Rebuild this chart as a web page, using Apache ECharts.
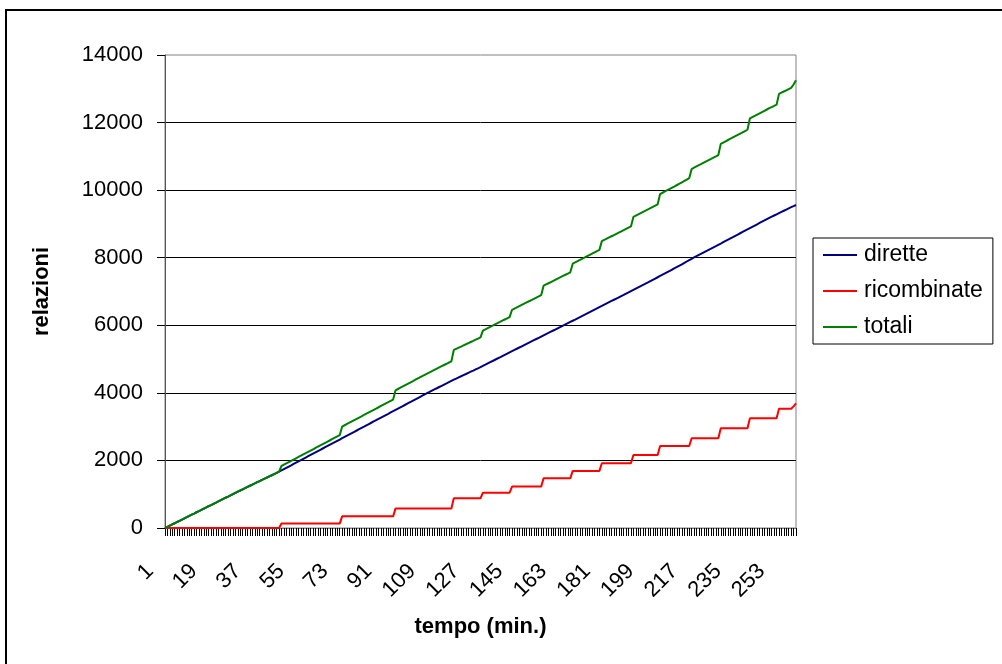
<!DOCTYPE html>
<html>
<head>
<meta charset="utf-8">
<title>relazioni nel tempo</title>
<script src="https://cdn.jsdelivr.net/npm/echarts@6/dist/echarts.min.js"></script>
<style>
  html, body { margin: 0; padding: 0; background: #fff; }
  #chart { width: 1002px; height: 664px; }
</style>
</head>
<body>
<div id="chart"></div>
<script>
// minutes 1..261
const minutes = [];
for (let m = 1; m <= 261; m++) minutes.push(String(m));

const seriesNames = ['dirette', 'ricombinate', 'totali'];

const dirette = [
  0, 30, 68, 105, 140, 178, 212, 250, 285, 320,
  356, 393, 428, 466, 501, 537, 574, 608, 645, 680,
  716, 752, 789, 823, 860, 896, 931, 968, 1003, 1040,
  1075, 1110, 1146, 1181, 1215, 1251, 1286, 1320, 1356, 1390,
  1425, 1459, 1494, 1528, 1562, 1597, 1632, 1667, 1705, 1743,
  1781, 1819, 1857, 1896, 1934, 1972, 2010, 2048, 2086, 2124,
  2162, 2200, 2238, 2277, 2315, 2353, 2391, 2429, 2467, 2505,
  2543, 2581, 2619, 2658, 2696, 2734, 2772, 2810, 2848, 2886,
  2924, 2962, 3000, 3039, 3077, 3115, 3153, 3191, 3229, 3267,
  3305, 3343, 3381, 3420, 3458, 3496, 3534, 3572, 3610, 3648,
  3686, 3724, 3762, 3801, 3839, 3877, 3915, 3953, 3990, 4026,
  4063, 4100, 4136, 4173, 4209, 4245, 4281, 4318, 4354, 4390,
  4424, 4458, 4491, 4525, 4558, 4592, 4626, 4659, 4693, 4727,
  4760, 4797, 4833, 4870, 4907, 4943, 4980, 5017, 5053, 5090,
  5126, 5162, 5198, 5234, 5270, 5306, 5342, 5378, 5414, 5450,
  5486, 5522, 5558, 5594, 5630, 5666, 5702, 5738, 5774, 5810,
  5846, 5882, 5918, 5954, 5990, 6026, 6062, 6098, 6134, 6170,
  6207, 6244, 6281, 6318, 6355, 6392, 6429, 6466, 6503, 6540,
  6576, 6612, 6648, 6684, 6720, 6756, 6792, 6828, 6864, 6900,
  6937, 6974, 7011, 7048, 7085, 7122, 7159, 7196, 7233, 7270,
  7308, 7346, 7384, 7422, 7460, 7498, 7536, 7574, 7612, 7651,
  7689, 7727, 7765, 7806, 7847, 7888, 7929, 7969, 8010, 8047,
  8084, 8121, 8159, 8196, 8233, 8270, 8308, 8345, 8383, 8420,
  8458, 8496, 8534, 8572, 8610, 8648, 8686, 8724, 8762, 8800,
  8838, 8876, 8914, 8952, 8990, 9028, 9066, 9104, 9142, 9180,
  9215, 9250, 9285, 9320, 9355, 9390, 9425, 9460, 9495, 9527,
  9560
];

const ricombinate = [
  0, 0, 0, 0, 0, 0, 0, 0, 0, 0,
  0, 0, 0, 0, 0, 0, 0, 0, 0, 0,
  0, 0, 0, 0, 0, 0, 0, 0, 0, 0,
  0, 0, 0, 0, 0, 0, 0, 0, 0, 0,
  0, 0, 0, 0, 0, 0, 0, 0, 130, 130,
  130, 130, 130, 130, 130, 130, 130, 130, 130, 130,
  130, 130, 130, 130, 130, 130, 130, 130, 130, 130,
  130, 130, 130, 345, 345, 345, 345, 345, 345, 345,
  345, 345, 345, 345, 345, 345, 345, 345, 345, 345,
  345, 345, 345, 345, 345, 580, 580, 580, 580, 580,
  580, 580, 580, 580, 580, 580, 580, 580, 580, 580,
  580, 580, 580, 580, 580, 580, 580, 580, 580, 880,
  880, 880, 880, 880, 880, 880, 880, 880, 880, 880,
  880, 1045, 1045, 1045, 1045, 1045, 1045, 1045, 1045, 1045,
  1045, 1045, 1045, 1225, 1225, 1225, 1225, 1225, 1225, 1225,
  1225, 1225, 1225, 1225, 1225, 1225, 1470, 1470, 1470, 1470,
  1470, 1470, 1470, 1470, 1470, 1470, 1470, 1470, 1690, 1690,
  1690, 1690, 1690, 1690, 1690, 1690, 1690, 1690, 1690, 1690,
  1915, 1915, 1915, 1915, 1915, 1915, 1915, 1915, 1915, 1915,
  1915, 1915, 1915, 2160, 2160, 2160, 2160, 2160, 2160, 2160,
  2160, 2160, 2160, 2160, 2425, 2425, 2425, 2425, 2425, 2425,
  2425, 2425, 2425, 2425, 2425, 2425, 2425, 2655, 2655, 2655,
  2655, 2655, 2655, 2655, 2655, 2655, 2655, 2655, 2655, 2950,
  2950, 2950, 2950, 2950, 2950, 2950, 2950, 2950, 2950, 2950,
  2950, 3245, 3245, 3245, 3245, 3245, 3245, 3245, 3245, 3245,
  3245, 3245, 3245, 3530, 3530, 3530, 3530, 3530, 3530, 3600,
  3690
];

const totali = [
  0, 30, 68, 105, 140, 178, 212, 250, 285, 320,
  356, 393, 428, 466, 501, 537, 574, 608, 645, 680,
  716, 752, 789, 823, 860, 896, 931, 968, 1003, 1040,
  1075, 1110, 1146, 1181, 1215, 1251, 1286, 1320, 1356, 1390,
  1425, 1459, 1494, 1528, 1562, 1597, 1632, 1667, 1835, 1873,
  1911, 1949, 1987, 2026, 2064, 2102, 2140, 2178, 2216, 2254,
  2292, 2330, 2368, 2407, 2445, 2483, 2521, 2559, 2597, 2635,
  2673, 2711, 2749, 3003, 3041, 3079, 3117, 3155, 3193, 3231,
  3269, 3307, 3345, 3384, 3422, 3460, 3498, 3536, 3574, 3612,
  3650, 3688, 3726, 3765, 3803, 4076, 4114, 4152, 4190, 4228,
  4266, 4304, 4342, 4381, 4419, 4457, 4495, 4533, 4570, 4606,
  4643, 4680, 4716, 4753, 4789, 4825, 4861, 4898, 4934, 5270,
  5304, 5338, 5371, 5405, 5438, 5472, 5506, 5539, 5573, 5607,
  5640, 5842, 5878, 5915, 5952, 5988, 6025, 6062, 6098, 6135,
  6171, 6207, 6243, 6459, 6495, 6531, 6567, 6603, 6639, 6675,
  6711, 6747, 6783, 6819, 6855, 6891, 7172, 7208, 7244, 7280,
  7316, 7352, 7388, 7424, 7460, 7496, 7532, 7568, 7824, 7860,
  7897, 7934, 7971, 8008, 8045, 8082, 8119, 8156, 8193, 8230,
  8491, 8527, 8563, 8599, 8635, 8671, 8707, 8743, 8779, 8815,
  8852, 8889, 8926, 9208, 9245, 9282, 9319, 9356, 9393, 9430,
  9468, 9506, 9544, 9582, 9885, 9923, 9961, 9999, 10037, 10076,
  10114, 10152, 10190, 10231, 10272, 10313, 10354, 10624, 10665, 10702,
  10739, 10776, 10814, 10851, 10888, 10925, 10963, 11000, 11038, 11370,
  11408, 11446, 11484, 11522, 11560, 11598, 11636, 11674, 11712, 11750,
  11788, 12121, 12159, 12197, 12235, 12273, 12311, 12349, 12387, 12425,
  12460, 12495, 12530, 12850, 12885, 12920, 12955, 12990, 13025, 13127,
  13250
];

const FONT = "'Liberation Sans', Arial, sans-serif";

const chart = echarts.init(document.getElementById('chart'), null, { renderer: 'canvas' });

chart.setOption({
  animation: false,
  backgroundColor: '#ffffff',
  graphic: [{
    type: 'rect',
    silent: true,
    z: 100,
    shape: { x: 6, y: 10, width: 1100, height: 1000 },
    style: { fill: 'none', stroke: '#000', lineWidth: 2 }
  }],
  grid: {
    left: 165, right: 206, top: 55, bottom: 136,
    show: true, borderColor: '#808080', borderWidth: 1, backgroundColor: '#fff'
  },
  legend: {
    data: seriesNames,
    orient: 'vertical',
    left: 813, top: 238,
    padding: [5, 10, 5, 10],
    itemGap: 12,
    itemWidth: 34, itemHeight: 2,
    icon: 'rect',
    borderColor: '#000', borderWidth: 1,
    backgroundColor: '#fff',
    textStyle: { fontFamily: FONT, fontSize: 23, color: '#000', lineHeight: 24, padding: [0, 0, 0, 2] }
  },
  xAxis: {
    type: 'category',
    data: minutes,
    boundaryGap: false,
    name: 'tempo (min.)',
    nameLocation: 'middle',
    nameGap: 88,
    nameTextStyle: { fontFamily: FONT, fontSize: 22, fontWeight: 'bold', color: '#000' },
    axisLine: { lineStyle: { color: '#808080', width: 1 } },
    axisTick: { interval: 0, length: 8, lineStyle: { color: '#000' } },
    axisLabel: {
      interval: 17, rotate: 45, margin: 25,
      padding: [0, 21, 0, 0],
      fontFamily: FONT, fontSize: 22, color: '#000'
    },
    splitLine: { show: false }
  },
  yAxis: {
    type: 'value',
    min: 0, max: 14000, interval: 2000,
    name: 'relazioni',
    nameLocation: 'middle',
    nameGap: 112,
    nameTextStyle: { fontFamily: FONT, fontSize: 22, fontWeight: 'bold', color: '#000' },
    axisLine: { show: true, lineStyle: { color: '#555', width: 1 } },
    axisTick: { show: true, length: 8, lineStyle: { color: '#000' } },
    axisLabel: {
      margin: 22, fontFamily: FONT, fontSize: 22, color: '#000',
      formatter: function (v) { return String(v); }
    },
    splitLine: { show: true, showMaxLine: false, lineStyle: { color: '#000', width: 1 } }
  },
  series: [
    { name: 'dirette', type: 'line', data: dirette, symbol: 'none',
      itemStyle: { color: '#000080' }, lineStyle: { color: '#000080', width: 2 } },
    { name: 'ricombinate', type: 'line', data: ricombinate, symbol: 'none',
      itemStyle: { color: '#ff0000' }, lineStyle: { color: '#ff0000', width: 2 } },
    { name: 'totali', type: 'line', data: totali, symbol: 'none',
      itemStyle: { color: '#008000' }, lineStyle: { color: '#008000', width: 2 } }
  ]
});
</script>
</body>
</html>
